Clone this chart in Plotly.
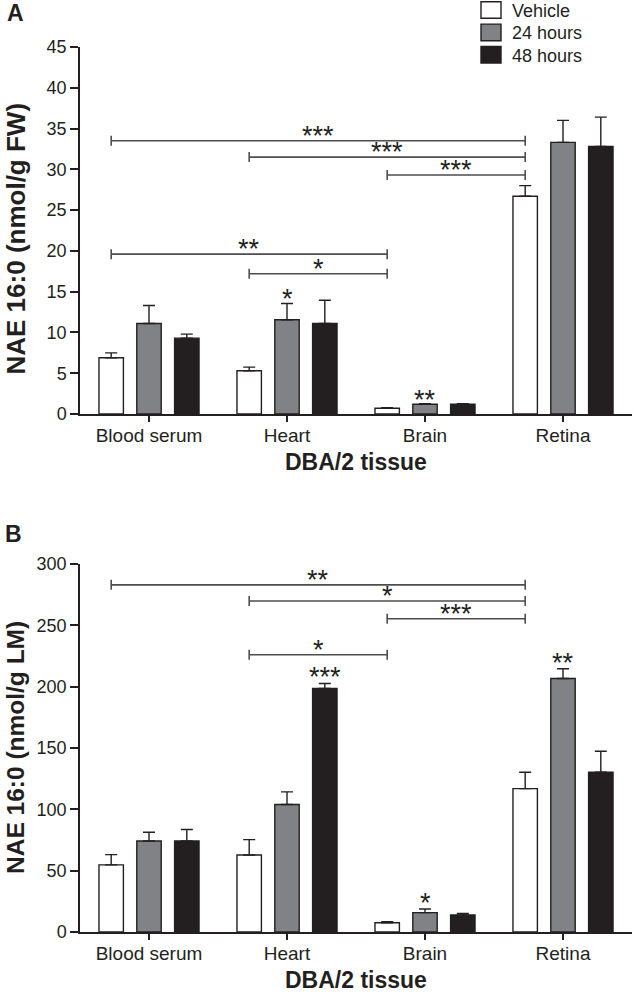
import plotly.graph_objects as go

# ---------------- data ----------------
tissues = ["Blood serum", "Heart", "Brain", "Retina"]
groups = ["Vehicle", "24 hours", "48 hours"]

# Panel A: NAE 16:0 (nmol/g FW)
a_vehicle = [6.9, 5.3, 0.7, 26.7]
a_vehicle_err = [0.6, 0.45, 0.06, 1.3]
a_24h = [11.1, 11.55, 1.2, 33.3]
a_24h_err = [2.2, 2.0, 0.06, 2.7]
a_48h = [9.3, 11.1, 1.2, 32.8]
a_48h_err = [0.5, 2.85, 0.06, 3.6]

# Panel B: NAE 16:0 (nmol/g LM)
b_vehicle = [54.7, 62.8, 7.6, 116.9]
b_vehicle_err = [8.4, 12.5, 0.7, 13.3]
b_24h = [74.2, 103.9, 15.8, 206.7]
b_24h_err = [7.1, 10.3, 3.0, 7.9]
b_48h = [74.2, 198.5, 13.9, 130.2]
b_48h_err = [9.3, 4.1, 1.3, 17.1]

# significance brackets: (from tissue, to tissue, level, label) between vehicle bars
a_brackets = [(0, 3, 33.5, "***"), (1, 3, 31.5, "***"), (2, 3, 29.3, "***"),
              (0, 2, 19.6, "**"), (1, 2, 17.2, "*")]
b_brackets = [(0, 3, 283.0, "**"), (1, 3, 269.8, "*"), (2, 3, 255.4, "***"),
              (1, 2, 226.0, "*")]
# stars above bars: (tissue, group, label)
a_bar_stars = [(1, 1, "*"), (2, 1, "**")]
b_bar_stars = [(1, 2, "***"), (2, 1, "*"), (3, 1, "**")]

a_ticks = list(range(0, 46, 5))
b_ticks = list(range(0, 301, 50))

# ---------------- style ----------------
FILL = ["#ffffff", "#808285", "#231f20"]
INK = "#231f20"
BRK = "#4d4d4f"
FONT = "Liberation Sans, Arial, sans-serif"
BARGAP = 0.178
BARGROUPGAP = 0.354
SLOT = (1 - BARGAP) / 3

W, HT = 633, 993
ML, MR, MT, MB = 80, 1, 47, 61
PW = W - ML - MR
H = HT - MT - MB


def px_x(p):
    return (p - ML) / PW


def px_y(p):
    return (HT - MB - p) / H


fig = go.Figure()

panels = [
    ("x", "y", [a_vehicle, a_24h, a_48h], [a_vehicle_err, a_24h_err, a_48h_err],
     a_brackets, a_bar_stars, 4),
    ("x2", "y2", [b_vehicle, b_24h, b_48h], [b_vehicle_err, b_24h_err, b_48h_err],
     b_brackets, b_bar_stars, 6),
]

STAR_FONT = dict(family=FONT, size=27, color=INK)
xpos = list(range(len(tissues)))
for xa, ya, vals, errs, brackets, stars, bshift in panels:
    for g in range(3):
        fig.add_trace(go.Bar(
            x=xpos, y=vals[g], xaxis=xa, yaxis=ya, name=groups[g],
            showlegend=False, offsetgroup=str(g),
            marker=dict(color=FILL[g], line=dict(color=INK, width=1.4)),
            error_y=dict(type="data", symmetric=False, array=errs[g],
                         arrayminus=[0] * len(errs[g]),
                         color=INK, thickness=1.4, width=6),
        ))
    for (i0, i1, lvl, lab) in brackets:
        xa0 = i0 - SLOT
        xa1 = i1 - SLOT
        fig.add_shape(type="line", xref=xa, yref=ya, x0=xa0, x1=xa1, y0=lvl, y1=lvl,
                      line=dict(color=BRK, width=1.6))
        for xe in (xa0, xa1):
            fig.add_shape(type="line", xref=xa, yref=ya, x0=xe, x1=xe,
                          ysizemode="pixel", yanchor=lvl, y0=-5, y1=5,
                          line=dict(color=BRK, width=1.6))
        fig.add_annotation(xref=xa, yref=ya, x=(xa0 + xa1) / 2, y=lvl, text=lab,
                           showarrow=False, yanchor="middle", yshift=5,
                           font=STAR_FONT)
    for (ti, g, lab) in stars:
        fig.add_annotation(xref=xa, yref=ya, x=ti + (g - 1) * SLOT,
                           y=vals[g][ti] + errs[g][ti], text=lab,
                           showarrow=False, yanchor="middle", yshift=bshift,
                           font=STAR_FONT)

axis_common = dict(showline=True, linecolor=INK, linewidth=1.5, ticks="outside",
                   tickcolor=INK, tickwidth=1.5, showgrid=False, zeroline=False)
xfont = dict(family=FONT, size=19, color=INK)
yfont = dict(family=FONT, size=18, color=INK)

fig.update_layout(
    width=W, height=HT,
    margin=dict(l=ML, r=MR, t=MT, b=MB, autoexpand=False),
    paper_bgcolor="white", plot_bgcolor="white",
    barmode="group", bargap=BARGAP, bargroupgap=BARGROUPGAP,
    font=dict(family=FONT, color=INK),
    showlegend=False,
    xaxis=dict(domain=[0, 1], anchor="y", range=[-0.5, 3.5], tickfont=xfont,
               tickvals=xpos, ticktext=tissues, ticklen=6, ticklabelstandoff=-3,
               **axis_common),
    yaxis=dict(domain=[px_y(414), 1], anchor="x", range=[0, 45], tickfont=yfont,
               tickvals=a_ticks, ticklen=8, **axis_common),
    xaxis2=dict(domain=[0, 1], anchor="y2", range=[-0.5, 3.5], tickfont=xfont,
                tickvals=xpos, ticktext=tissues, ticklen=6, ticklabelstandoff=-3,
                **axis_common),
    yaxis2=dict(domain=[0, px_y(564)], anchor="x2", range=[0, 300], tickfont=yfont,
                tickvals=b_ticks, ticklen=8, **axis_common),
)

# legend (swatches + labels)
LEG_ROWS = [10, 32.4, 54.7]
for g in range(3):
    yc = LEG_ROWS[g]
    fig.add_shape(type="rect", xref="paper", yref="paper",
                  x0=px_x(481), x1=px_x(501), y0=px_y(yc + 8.3), y1=px_y(yc - 8.3),
                  fillcolor=FILL[g], line=dict(color=INK, width=1.4))
    fig.add_annotation(xref="paper", yref="paper", x=px_x(510), y=px_y(yc + 1),
                       xanchor="left", yanchor="middle", showarrow=False,
                       text=groups[g], font=dict(family=FONT, size=18, color=INK))

# axis titles and panel letters
for xa, ya, ytitle, ysize, yshift, letter, lx, ly in [
        ("x", "y", "NAE 16:0 (nmol/g FW)", 26, -8, "A", 15, 13),
        ("x2", "y2", "NAE 16:0 (nmol/g LM)", 24.5, 0, "B", 13, 534)]:
    fig.add_annotation(xref=f"{xa} domain", yref=f"{ya} domain", x=0.5, y=0,
                       yshift=-48, yanchor="middle", showarrow=False,
                       text="<b>DBA/2 tissue</b>",
                       font=dict(family=FONT, size=23, color=INK))
    fig.add_annotation(xref=f"{xa} domain", yref=f"{ya} domain", x=0, y=0.5,
                       xshift=-65, yshift=yshift, xanchor="center", yanchor="middle",
                       textangle=-90, showarrow=False, text=f"<b>{ytitle}</b>",
                       font=dict(family=FONT, size=ysize, color=INK))
    fig.add_annotation(xref="paper", yref="paper", x=px_x(lx), y=px_y(ly),
                       xanchor="center", yanchor="middle",
                       showarrow=False, text=f"<b>{letter}</b>",
                       font=dict(family=FONT, size=23, color=INK))

fig.write_html("out.html", config={"displayModeBar": False},
               post_script="document.body.style.margin='0px';")
